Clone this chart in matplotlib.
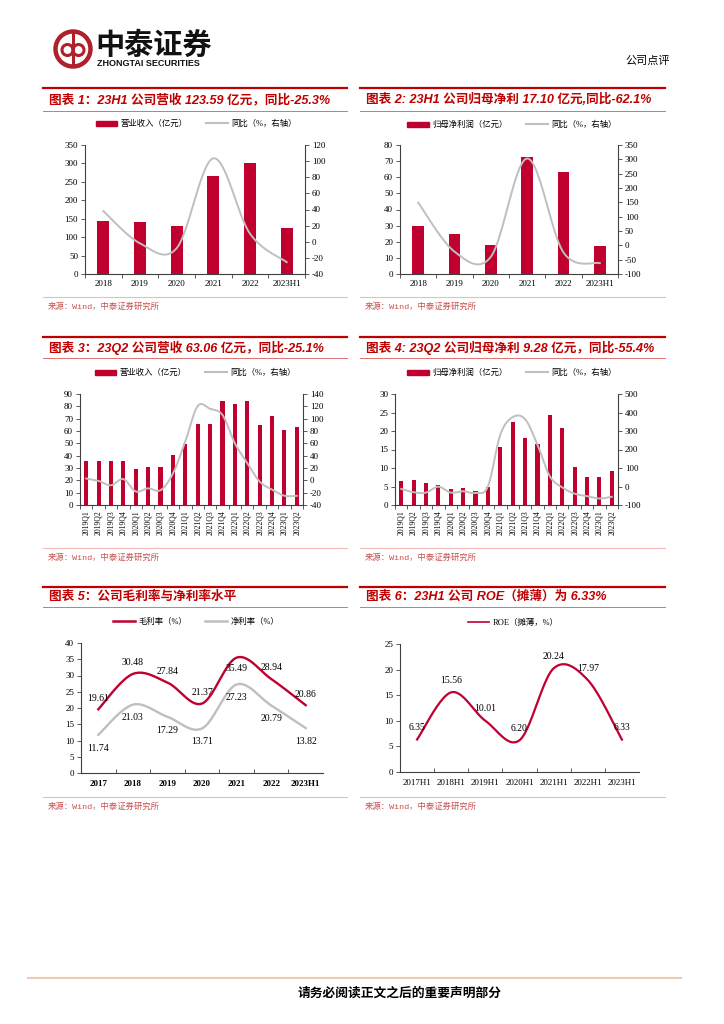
import numpy as np
import matplotlib.pyplot as plt
from matplotlib.patches import Circle, Patch
from matplotlib.lines import Line2D

plt.rcParams['font.family'] = ['Liberation Serif', 'Noto Sans CJK SC']
plt.rcParams['axes.unicode_minus'] = False

W, H = 724, 1024
RED = '#C0002F'
GRAY = '#BFBFBF'
TRED = '#C00000'

# ---- data ----
years = ['2018', '2019', '2020', '2021', '2022', '2023H1']
rev_year = [145, 142, 131, 265, 302, 123.59]
rev_year_yoy = [38, -2, -8, 103.5, 10, -25.3]
np_year = [30, 24.5, 18, 72.5, 63, 17.10]
np_year_yoy = [149, -22, -40, 303, -25, -62.1]

quarters = ['2019Q1', '2019Q2', '2019Q3', '2019Q4', '2020Q1', '2020Q2', '2020Q3', '2020Q4',
            '2021Q1', '2021Q2', '2021Q3', '2021Q4', '2022Q1', '2022Q2', '2022Q3', '2022Q4',
            '2023Q1', '2023Q2']
rev_q = [35.5, 35.5, 35.5, 36, 29.5, 30.5, 30.5, 40.5, 49.5, 66, 66, 84.5, 81.5, 84.5, 65, 72, 60.5, 63.06]
rev_q_yoy = [3, -1, -8, 2, -18, -13, -16, 11, 63, 120.5, 116, 106, 60, 28, -2, -15, -25, -25.1]
np_q = [6.5, 6.8, 6.0, 5.5, 4.3, 4.7, 3.9, 5.0, 15.8, 22.3, 18.1, 16.5, 24.2, 20.7, 10.2, 7.6, 7.7, 9.28]
np_q_yoy = [-13, -31, -33, -1, -33, -26, -35, 0, 280, 375, 364, 226, 55, -5, -39, -52, -65, -55.4]

margin_years = ['2017', '2018', '2019', '2020', '2021', '2022', '2023H1']
gross_margin = [19.61, 30.48, 27.84, 21.37, 35.49, 28.94, 20.86]
net_margin = [11.74, 21.03, 17.29, 13.71, 27.23, 20.79, 13.82]

roe_periods = ['2017H1', '2018H1', '2019H1', '2020H1', '2021H1', '2022H1', '2023H1']
roe = [6.35, 15.56, 10.01, 6.20, 20.24, 17.97, 6.33]


def smooth(xs, ys, n=24):
    # Excel-like smoothed line (Catmull-Rom through the data points)
    p = np.column_stack([xs, ys]).astype(float)
    p = np.vstack([p[0], p, p[-1]])
    out = []
    for i in range(1, len(p) - 2):
        p0, p1, p2, p3 = p[i - 1], p[i], p[i + 1], p[i + 2]
        t = np.linspace(0, 1, n, endpoint=False)[:, None]
        seg = 0.5 * ((2 * p1) + (-p0 + p2) * t + (2 * p0 - 5 * p1 + 4 * p2 - p3) * t ** 2
                     + (-p0 + 3 * p1 - 3 * p2 + p3) * t ** 3)
        out.append(seg)
    out.append(p[-2][None, :])
    out = np.vstack(out)
    return out[:, 0], out[:, 1]


fig = plt.figure(figsize=(W / 100, H / 100), dpi=100)
bg = fig.add_axes([0, 0, 1, 1])
bg.set_xlim(0, W)
bg.set_ylim(H, 0)
bg.axis('off')


def px_axes(x0, y0, x1, y1):
    return fig.add_axes([x0 / W, 1 - y1 / H, (x1 - x0) / W, (y1 - y0) / H])


def style_axis(ax):
    ax.spines['top'].set_visible(False)
    for s in ['left', 'right', 'bottom']:
        ax.spines[s].set_color('#404040')
        ax.spines[s].set_linewidth(0.8)
    ax.tick_params(labelsize=6.5, length=3, width=0.6, color='#404040', pad=2)


def combo(box, cats, bars, line, lim_l, step_l, lim_r, step_r, rotate=False, leg=None, leg_pos=None):
    ax = px_axes(*box)
    x = np.arange(len(cats))
    ax.bar(x, bars, width=0.33, color=RED, zorder=2)
    ax.set_xlim(-0.5, len(cats) - 0.5)
    ax.set_ylim(*lim_l)
    ax.set_yticks(np.arange(lim_l[0], lim_l[1] + step_l / 2, step_l))
    style_axis(ax)
    ax.spines['right'].set_visible(False)
    ax.set_xticks(x)
    if rotate:
        ax.set_xticklabels(cats, rotation=90, fontsize=5.5)
    else:
        ax.set_xticklabels(cats, fontsize=6.5)
    ax.tick_params(axis='x', which='major', length=0, pad=4)
    ax.set_xticks(np.arange(-0.5, len(cats), 1), minor=True)
    ax.tick_params(axis='x', which='minor', length=3, width=0.6, color='#404040')
    ax2 = ax.twinx()
    sx, sy = smooth(x, line)
    ax2.plot(sx, sy, color=GRAY, lw=1.4, zorder=3)
    ax2.set_ylim(*lim_r)
    ax2.set_yticks(np.arange(lim_r[0], lim_r[1] + step_r / 2, step_r))
    style_axis(ax2)
    ax2.spines['left'].set_visible(False)
    ax2.spines['bottom'].set_visible(False)
    handles = [Patch(color=RED), Line2D([], [], color=GRAY, lw=1.5)]
    ax.legend(handles, leg, loc='center', bbox_to_anchor=(leg_pos[0] / W, 1 - leg_pos[1] / H),
              bbox_transform=fig.transFigure, ncol=2, frameon=False, fontsize=6,
              handlelength=2.6, handleheight=0.6, columnspacing=2.2, handletextpad=0.4)
    return ax, ax2


def lines_chart(box, cats, series, lim, step, bold_ticks=False):
    ax = px_axes(*box)
    x = np.arange(len(cats))
    ax.set_xlim(-0.5, len(cats) - 0.5)
    ax.set_ylim(*lim)
    ax.set_yticks(np.arange(lim[0], lim[1] + step / 2, step))
    style_axis(ax)
    ax.spines['right'].set_visible(False)
    ax.set_xticks(x)
    ax.set_xticklabels(cats, fontsize=6.5, fontweight='bold' if bold_ticks else 'normal')
    ax.tick_params(axis='x', which='major', length=0, pad=5)
    ax.set_xticks(np.arange(0.5, len(cats) - 1, 1), minor=True)
    ax.tick_params(axis='x', which='minor', length=3, width=0.6, direction='in', color='#404040')
    for vals, color, lw, offs in series:
        sx, sy = smooth(x, vals)
        ax.plot(sx, sy, color=color, lw=lw)
        for xi, v, o in zip(x, vals, offs):
            ax.annotate(f'{v:.2f}', (xi, v), xytext=(0, o), textcoords='offset points',
                        ha='center', va='center', fontsize=7)
    return ax


def panel_frame(x0, x1, y_top, y_thin, title, y_src_line):
    bg.plot([x0, x1], [y_top, y_top], color=TRED, lw=1.6)
    bg.plot([x0, x1], [y_thin, y_thin], color='#E07070', lw=0.7)
    bg.text(x0 + 6, (y_top + y_thin) / 2, title, color=TRED, fontsize=9.1, fontweight='bold',
            style='italic', va='center', ha='left', family=['Liberation Sans', 'Noto Sans CJK SC'])
    bg.plot([x0, x1], [y_src_line, y_src_line], color='#F2B8B8', lw=0.8)
    bg.text(x0 + 5, y_src_line + 10, '来源：Wind，中泰证券研究所', color='#C8504F', fontsize=6,
            va='center', ha='left', family=['Liberation Mono', 'Noto Sans CJK SC'])


# ---- header ----
bg.add_patch(Circle((73, 49), 17.5, fill=False, ec='#B0202A', lw=3.2))
bg.plot([73, 73], [33, 65], color='#B0202A', lw=2.2)
bg.add_patch(Circle((67.5, 50), 5.5, fill=False, ec='#B0202A', lw=2.2))
bg.add_patch(Circle((78.5, 50), 5.5, fill=False, ec='#B0202A', lw=2.2))
bg.text(95, 45, '中泰证券', fontsize=21, fontweight='bold', va='center', ha='left',
        family=['Noto Sans CJK SC'], color='#111111')
bg.text(97, 63.5, 'ZHONGTAI SECURITIES', fontsize=6.5, fontweight='bold', va='center', ha='left',
        family=['Liberation Sans'], color='#111111')
bg.text(670, 61, '公司点评', fontsize=8, va='center', ha='right', family=['Noto Sans CJK SC'])

# ---- panel frames ----
L0, L1, R0, R1 = 43, 347, 360, 665
panel_frame(L0, L1, 88, 111, '图表 1：23H1 公司营收 123.59 亿元，同比-25.3%', 297)
panel_frame(R0, R1, 88, 111, '图表 2: 23H1 公司归母净利 17.10 亿元,同比-62.1%', 297)
panel_frame(L0, L1, 337, 358, '图表 3：23Q2 公司营收 63.06 亿元，同比-25.1%', 548)
panel_frame(R0, R1, 337, 358, '图表 4: 23Q2 公司归母净利 9.28 亿元，同比-55.4%', 548)
panel_frame(L0, L1, 587, 607, '图表 5：公司毛利率与净利率水平', 797)
panel_frame(R0, R1, 587, 607, '图表 6：23H1 公司 ROE（摊薄）为 6.33%', 797)

# ---- charts ----
combo((85, 145, 305, 274), years, rev_year, rev_year_yoy, (0, 350), 50, (-40, 120), 20,
      leg=['营业收入（亿元）', '同比（%，右轴）'], leg_pos=(196, 124))
combo((400, 145, 618, 274), years, np_year, np_year_yoy, (0, 80), 10, (-100, 350), 50,
      leg=['归母净利润（亿元）', '同比（%，右轴）'], leg_pos=(512, 125))
combo((80, 394, 303, 505), quarters, rev_q, rev_q_yoy, (0, 90), 10, (-40, 140), 20, rotate=True,
      leg=['营业收入（亿元）', '同比（%，右轴）'], leg_pos=(195, 373))
combo((395, 394, 618, 505), quarters, np_q, np_q_yoy, (0, 30), 5, (-100, 500), 100, rotate=True,
      leg=['归母净利润（亿元）', '同比（%，右轴）'], leg_pos=(512, 373))

ax5 = lines_chart((81, 643, 323, 773), margin_years,
                  [(gross_margin, RED, 1.7, [8, 8, 8, 8, -7.5, 8, 8]),
                   (net_margin, GRAY, 1.7, [-9.5] * 7)],
                  (0, 40), 5, bold_ticks=True)
ax5.legend([Line2D([], [], color=RED, lw=1.8), Line2D([], [], color=GRAY, lw=1.8)],
           ['毛利率（%）', '净利率（%）'], loc='center', bbox_to_anchor=(196 / W, 1 - 622 / H),
           bbox_transform=fig.transFigure, ncol=2, frameon=False, fontsize=6,
           handlelength=2.6, columnspacing=2.2, handletextpad=0.4)

ax6 = lines_chart((400, 644, 639, 772), roe_periods, [(roe, RED, 1.6, [8.5] * 7)], (0, 25), 5)
ax6.legend([Line2D([], [], color=RED, lw=1.2)], ['ROE（摊薄，%）'], loc='center',
           bbox_to_anchor=(513 / W, 1 - 623 / H), bbox_transform=fig.transFigure, frameon=False,
           fontsize=6, handlelength=2.6, handletextpad=0.4)

# ---- footer ----
bg.plot([28, 681], [978, 978], color='#EBCBB5', lw=1.5)
bg.text(400, 993, '请务必阅读正文之后的重要声明部分', fontsize=9.2, fontweight='bold', ha='center',
        va='center', family=['Noto Sans CJK SC'])

fig.savefig('out.png', dpi=100)
